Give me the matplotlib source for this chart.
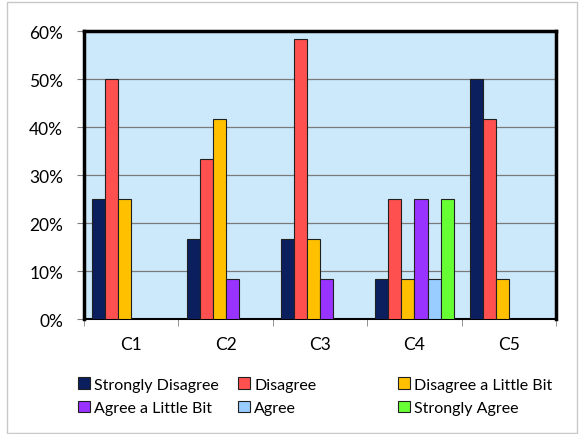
import numpy as np
import matplotlib
matplotlib.use('Agg')
import matplotlib.pyplot as plt
from matplotlib.patches import Rectangle

plt.rcParams['font.family'] = ['Lato', 'DejaVu Sans']

# Response shares per question (fraction of 12 respondents)
questions = ['C1', 'C2', 'C3', 'C4', 'C5']
responses = ['Strongly Disagree', 'Disagree', 'Disagree a Little Bit',
             'Agree a Little Bit', 'Agree', 'Strongly Agree']
strongly_disagree = [25.0, 16.7, 16.7, 8.3, 50.0]
disagree = [50.0, 33.3, 58.3, 25.0, 41.7]
disagree_little = [25.0, 41.7, 16.7, 8.3, 8.3]
agree_little = [0.0, 8.3, 8.3, 25.0, 0.0]
agree = [0.0, 0.0, 0.0, 8.3, 0.0]
strongly_agree = [0.0, 0.0, 0.0, 25.0, 0.0]
series = [strongly_disagree, disagree, disagree_little,
          agree_little, agree, strongly_agree]
colors = ['#0b1f5e', '#ff5050', '#ffc000', '#9933ff', '#99ccff', '#66ff33']

fig = plt.figure(figsize=(5.85, 4.35), dpi=100)
fig.patches.append(Rectangle((0.012, 0.002), 0.975, 0.99, transform=fig.transFigure,
                             fill=False, edgecolor='#c8c8c8', lw=1))
ax = fig.add_axes([0.1436, 0.264, 0.807, 0.662])
ax.set_facecolor('#cce9fb')

x = np.arange(len(questions))
width = 0.138
bars = []
for i, (vals, col) in enumerate(zip(series, colors)):
    b = ax.bar(x + (i - 2.5) * width, np.array(vals) / 100., width, color=col,
               edgecolor='#202020', lw=0.8, label=responses[i], zorder=3)
    bars.append(b)

ax.set_xlim(-0.5, len(questions) - 0.5)
ax.set_ylim(0, 0.6)
ax.set_yticks(np.arange(0, 0.61, 0.1))
ax.set_yticklabels(['%d%%' % v for v in range(0, 61, 10)])
ax.set_xticks(x)
ax.set_xticklabels(questions)
ax.set_xticks(np.arange(-0.5, len(questions)), minor=True)
ax.tick_params(axis='x', which='major', length=0, pad=12, labelsize=12.5)
ax.tick_params(axis='x', which='minor', length=5, color='#808080')
ax.tick_params(axis='y', length=5, color='#808080', labelsize=12.5, pad=10)
ax.yaxis.grid(True, color='#7a7a7a', lw=0.9, zorder=1)

for side in ['top', 'right', 'left']:
    ax.spines[side].set_linewidth(2.5)
    ax.spines[side].set_color('black')
ax.spines['bottom'].set_linewidth(1.5)
ax.spines['bottom'].set_color('black')

# three legend columns at fixed spacing, two entries each
col_x = [0.133, 0.407, 0.680]
for c in range(3):
    idx = [c, c + 3]
    leg = fig.legend([bars[k] for k in idx], [responses[k] for k in idx],
                     loc='upper left', bbox_to_anchor=(col_x[c], 0.13),
                     frameon=False, borderpad=0, borderaxespad=0,
                     fontsize=11.5, handlelength=0.75, handleheight=0.75,
                     handletextpad=0.25, labelspacing=0.55)

fig.savefig('out.png', dpi=100)
